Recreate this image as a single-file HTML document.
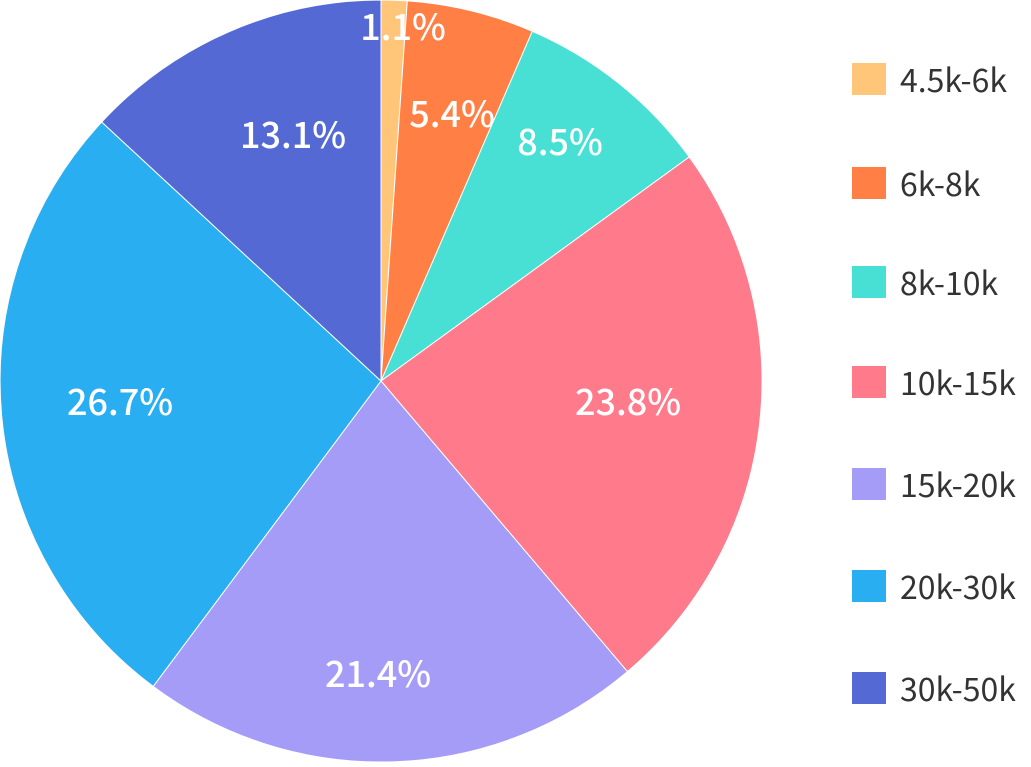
<!DOCTYPE html>
<html><head><meta charset="utf-8"><style>
html,body{margin:0;padding:0;background:#fff;}
body{width:1031px;height:762px;overflow:hidden;}
</style></head><body>
<svg width="1031" height="762" viewBox="0 0 1031 762" xmlns="http://www.w3.org/2000/svg" font-family="'Noto Sans CJK SC', 'Liberation Sans', sans-serif">
<g stroke="#fff" stroke-width="1">
<path d="M381,381 L381,0 A381,381 0 0 1 407.3,0.9 Z" fill="#FFC67A"/>
<path d="M381,381 L407.3,0.9 A381,381 0 0 1 532.3,31.3 Z" fill="#FF7F45"/>
<path d="M381,381 L532.3,31.3 A381,381 0 0 1 689.2,157 Z" fill="#48E0D4"/>
<path d="M381,381 L689.2,157 A381,381 0 0 1 627.4,671.6 Z" fill="#FF7A8A"/>
<path d="M381,381 L627.4,671.6 A381,381 0 0 1 153.2,686.4 Z" fill="#A59CF7"/>
<path d="M381,381 L153.2,686.4 A381,381 0 0 1 101.7,122 Z" fill="#29AEF2"/>
<path d="M381,381 L101.7,122 A381,381 0 0 1 381,0 Z" fill="#5469D4"/>
</g>
<g fill="#fff" font-size="36" font-weight="500" text-anchor="middle" dominant-baseline="central">
<text x="403" y="25">1.1%</text>
<text x="452" y="112">5.4%</text>
<text x="560" y="140">8.5%</text>
<text x="628" y="400">23.8%</text>
<text x="378" y="672">21.4%</text>
<text x="120" y="400">26.7%</text>
<text x="293" y="133">13.1%</text>
</g>
<g font-size="32" fill="#333" dominant-baseline="central">
<rect x="852" y="63" width="34" height="32" fill="#FFC67A"/><text x="900" y="79">4.5k-6k</text>
<rect x="852" y="167" width="34" height="32" fill="#FF7F45"/><text x="900" y="183">6k-8k</text>
<rect x="852" y="266" width="34" height="32" fill="#48E0D4"/><text x="900" y="282">8k-10k</text>
<rect x="852" y="366" width="34" height="32" fill="#FF7A8A"/><text x="900" y="382">10k-15k</text>
<rect x="852" y="468" width="34" height="32" fill="#A59CF7"/><text x="900" y="484">15k-20k</text>
<rect x="852" y="570" width="34" height="32" fill="#29AEF2"/><text x="900" y="586">20k-30k</text>
<rect x="852" y="672" width="34" height="32" fill="#5469D4"/><text x="900" y="688">30k-50k</text>
</g>
</svg>
</body></html>
